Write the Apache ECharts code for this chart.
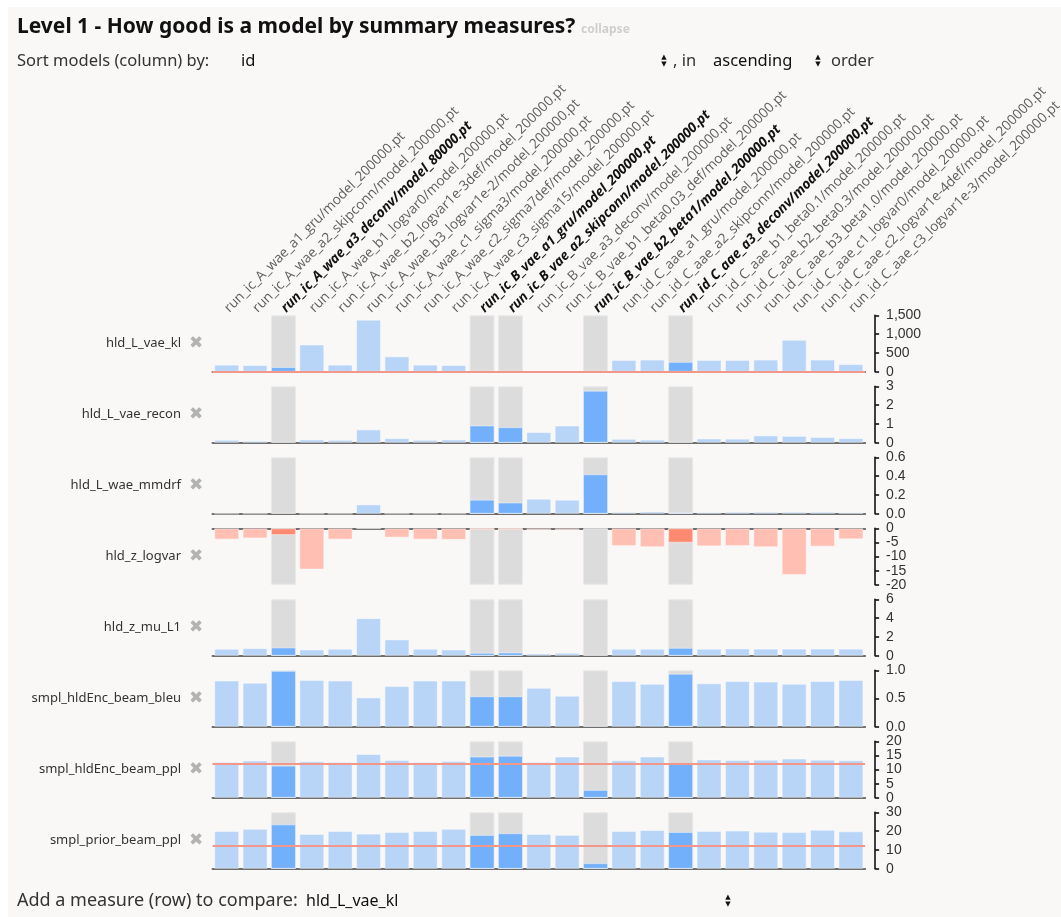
<!DOCTYPE html>
<html>
<head>
<meta charset="utf-8">
<script src="https://cdn.jsdelivr.net/npm/echarts@6/dist/echarts.min.js"></script>
<style>
  html, body { margin: 0; padding: 0; background: #ffffff; }
  #chart { width: 1061px; height: 917px; }
</style>
</head>
<body>
<div id="chart"></div>
<script>
// Models (columns), in ascending id order
const models = [
  'run_ic_A_wae_a1_gru/model_200000.pt',
  'run_ic_A_wae_a2_skipconn/model_200000.pt',
  'run_ic_A_wae_a3_deconv/model_80000.pt',
  'run_ic_A_wae_b1_logvar0/model_200000.pt',
  'run_ic_A_wae_b2_logvar1e-3def/model_200000.pt',
  'run_ic_A_wae_b3_logvar1e-2/model_200000.pt',
  'run_ic_A_wae_c1_sigma3/model_200000.pt',
  'run_ic_A_wae_c2_sigma7def/model_200000.pt',
  'run_ic_A_wae_c3_sigma15/model_200000.pt',
  'run_ic_B_vae_a1_gru/model_200000.pt',
  'run_ic_B_vae_a2_skipconn/model_200000.pt',
  'run_ic_B_vae_a3_deconv/model_200000.pt',
  'run_ic_B_vae_b1_beta0.03_def/model_200000.pt',
  'run_ic_B_vae_b2_beta1/model_200000.pt',
  'run_id_C_aae_a1_gru/model_200000.pt',
  'run_id_C_aae_a2_skipconn/model_200000.pt',
  'run_id_C_aae_a3_deconv/model_200000.pt',
  'run_id_C_aae_b1_beta0.1/model_200000.pt',
  'run_id_C_aae_b2_beta0.3/model_200000.pt',
  'run_id_C_aae_b3_beta1.0/model_200000.pt',
  'run_id_C_aae_c1_logvar0/model_200000.pt',
  'run_id_C_aae_c2_logvar1e-4def/model_200000.pt',
  'run_id_C_aae_c3_logvar1e-3/model_200000.pt'
];
// Selected models (drawn bold, with a grey column behind)
const selected = [
  false, false, true, false, false, false, false, false, false,
  true, true, false, false, true,
  false, false, true, false, false, false, false, false, false
];

// Measures (rows)
const measures = [
  'hld_L_vae_kl', 'hld_L_vae_recon', 'hld_L_wae_mmdrf', 'hld_z_logvar',
  'hld_z_mu_L1', 'smpl_hldEnc_beam_bleu', 'smpl_hldEnc_beam_ppl', 'smpl_prior_beam_ppl'
];

const hldLVaeKl = [190, 180, 125, 725, 190, 1385, 410, 190, 180, 6, 5, 3, 8, 2,
  315, 325, 265, 315, 315, 325, 850, 325, 205];
const hldLVaeRecon = [0.16, 0.11, null, 0.18, 0.16, 0.71, 0.25, 0.16, 0.18, 0.92, 0.83, 0.57, 0.92, 2.77,
  0.21, 0.17, null, 0.23, 0.22, 0.39, 0.37, 0.31, 0.25];
const hldLWaeMmdrf = [0, 0, null, 0, 0, 0.10, 0, 0, 0, 0.15, 0.12, 0.16, 0.15, 0.42,
  0.02, 0.025, 0.015, 0.018, 0.022, 0.022, 0.022, 0.022, 0.016];
const hldZLogvar = [-4.0, -3.6, -2.4, -14.6, -4.0, -0.2, -3.3, -4.0, -4.1, -0.6, -0.6, -0.6, -0.6, null,
  -6.3, -6.7, -5.1, -6.4, -6.3, -6.7, -16.5, -6.5, -3.9];
const hldZMuL1 = [0.75, 0.82, 0.89, 0.67, 0.75, 4.0, 1.74, 0.75, 0.67, 0.32, 0.35, 0.25, 0.32, null,
  0.75, 0.75, 0.85, 0.75, 0.78, 0.76, 0.76, 0.77, 0.76];
const smplHldEncBeamBleu = [0.82, 0.78, 0.99, 0.83, 0.82, 0.52, 0.72, 0.82, 0.82, 0.54, 0.54, 0.69, 0.55, null,
  0.81, 0.76, 0.94, 0.77, 0.81, 0.80, 0.76, 0.81, 0.83];
const smplHldEncBeamPpl = [12.7, 13.2, 11.4, 12.9, 12.7, 15.5, 13.4, 12.7, 13.0, 14.6, 14.9, 12.7, 14.6, 2.8,
  13.3, 14.6, 12.0, 13.6, 13.4, 13.5, 13.9, 13.5, 13.3];
const smplPriorBeamPpl = [20.1, 21.2, 23.6, 18.5, 20.1, 18.7, 19.6, 20.1, 21.2, 18.0, 18.9, 18.5, 18.0, 3.0,
  20.1, 20.6, 19.6, 20.1, 20.3, 19.7, 19.5, 20.7, 19.9];

const rowValues = [hldLVaeKl, hldLVaeRecon, hldLWaeMmdrf, hldZLogvar,
  hldZMuL1, smplHldEncBeamBleu, smplHldEncBeamPpl, smplPriorBeamPpl];

// Axis ranges and tick steps per row
const axisMin = [0, 0, 0, -20, 0, 0, 0, 0];
const axisMax = [1500, 3, 0.6, 0, 6, 1, 20, 30];
const axisStep = [500, 1, 0.2, 5, 2, 0.5, 5, 10];
const axisDecimals = [null, null, 1, null, null, 1, null, null];
// Reference lines (null = none)
const refLine = [0, null, null, null, null, null, 12.1, 12.1];

// Layout
const GRID_LEFT = 212.5, GRID_W = 652.6, ROW_TOP = 315.3, ROW_STEP = 71, ROW_H = 56.5;
const BAR_W = 25;
const LIGHT_BLUE = '#b8d5f8', DARK_BLUE = '#73b0fb';
const LIGHT_RED = '#ffbfb3', DARK_RED = '#ff8a70';
const PAGE_BG = '#f9f8f7';
const UI_FONT = '"Noto Sans", "Open Sans", sans-serif';

const grids = [], xAxes = [], yAxes = [], series = [];

measures.forEach((m, i) => {
  grids.push({
    left: GRID_LEFT, width: GRID_W, top: ROW_TOP + ROW_STEP * i, height: ROW_H,
    containLabel: false, outerBoundsMode: 'none'
  });
  xAxes.push({
    type: 'category', gridIndex: i, data: models,
    axisLine: { onZero: true, lineStyle: { color: '#6f6f6f', width: 2 } },
    axisTick: { show: false }, axisLabel: { show: false }, splitLine: { show: false }
  });
  const dec = axisDecimals[i];
  yAxes.push({
    type: 'value', gridIndex: i, position: 'right', offset: 10,
    min: axisMin[i], max: axisMax[i], interval: axisStep[i],
    splitLine: { show: false },
    axisLine: { show: true, lineStyle: { color: '#111', width: 1.6 } },
    axisTick: { show: true, inside: false, length: 4, lineStyle: { color: '#111', width: 1.6 } },
    axisLabel: {
      margin: 11, color: '#333', fontSize: 14,
      fontFamily: '"Liberation Sans", Arial, sans-serif',
      formatter: dec == null ? undefined : (v) => v.toFixed(dec)
    }
  });

  // grey column behind selected models, spanning the whole axis range
  const full = axisMax[i] > 0 ? axisMax[i] : axisMin[i];
  series.push({
    type: 'bar', xAxisIndex: i, yAxisIndex: i, barWidth: BAR_W, silent: true, z: 1,
    data: models.map((_, j) => selected[j] ? full : null),
    itemStyle: { color: '#dcdcdc', borderColor: '#e9e9e9', borderWidth: 1 }
  });

  const s = {
    type: 'bar', xAxisIndex: i, yAxisIndex: i, barWidth: BAR_W, barGap: '-100%', z: 2,
    data: rowValues[i].map((v, j) => ({
      value: v,
      itemStyle: {
        color: v != null && v < 0
          ? (selected[j] ? DARK_RED : LIGHT_RED)
          : (selected[j] ? DARK_BLUE : LIGHT_BLUE)
      }
    })),
    itemStyle: { borderColor: 'rgba(255,255,255,0.45)', borderWidth: 1 }
  };
  if (refLine[i] != null) {
    s.markLine = {
      silent: true, symbol: 'none', label: { show: false }, z: 5,
      lineStyle: { color: '#f3978a', width: 2, type: 'solid' },
      data: [{ yAxis: refLine[i] }]
    };
  }
  series.push(s);
});

// Column names along the top of the first row
xAxes.push({
  type: 'category', gridIndex: 0, position: 'top', data: models,
  axisLine: { show: false, onZero: false }, axisTick: { show: false },
  axisLabel: {
    interval: 0, rotate: -45, margin: 5, align: 'left', verticalAlign: 'middle',
    hideOverlap: false,
    fontFamily: '"Open Sans", sans-serif', fontSize: 13.7, color: '#5e5e5e',
    formatter: (v, idx) => selected[idx] ? '{sel|' + v + '}' : v,
    rich: {
      sel: { fontFamily: '"Open Sans", sans-serif', fontSize: 13.7, fontWeight: 'bold',
        fontStyle: 'italic', color: '#111' }
    }
  }
});
// hidden series so the label axis is bound
series.push({ type: 'bar', xAxisIndex: measures.length, yAxisIndex: 0, data: [], silent: true });

// Page text and row names on the left
const graphics = [
  { type: 'rect', shape: { x: 0, y: 0, width: 1061, height: 7 }, style: { fill: '#ffffff' }, silent: true },
  { type: 'rect', shape: { x: 0, y: 0, width: 8, height: 917 }, style: { fill: '#ffffff' }, silent: true },
  { type: 'text', x: 17, y: 27, style: { text: 'Level 1 - How good is a model by summary measures?',
      font: 'bold 21px ' + UI_FONT, fill: '#111', verticalAlign: 'middle' } },
  { type: 'text', x: 581, y: 30, style: { text: 'collapse', font: 'bold 12px ' + UI_FONT,
      fill: '#cfcfcf', verticalAlign: 'middle' } },
  { type: 'text', x: 17, y: 61, style: { text: 'Sort models (column) by:', font: '16.5px ' + UI_FONT,
      fill: '#333', verticalAlign: 'middle' } },
  { type: 'text', x: 241, y: 61, style: { text: 'id', font: '16.5px ' + UI_FONT, fill: '#111', verticalAlign: 'middle' } },
  { type: 'text', x: 664, y: 61, style: { text: '▲\n▼', font: '7px "DejaVu Sans"', lineHeight: 7,
      fill: '#111', align: 'center', verticalAlign: 'middle' } },
  { type: 'text', x: 673, y: 61, style: { text: ', in', font: '16.5px ' + UI_FONT, fill: '#333', verticalAlign: 'middle' } },
  { type: 'text', x: 713, y: 61, style: { text: 'ascending', font: '16.5px ' + UI_FONT, fill: '#111', verticalAlign: 'middle' } },
  { type: 'text', x: 818, y: 61, style: { text: '▲\n▼', font: '7px "DejaVu Sans"', lineHeight: 7,
      fill: '#111', align: 'center', verticalAlign: 'middle' } },
  { type: 'text', x: 831, y: 61, style: { text: 'order', font: '16.5px ' + UI_FONT, fill: '#333', verticalAlign: 'middle' } },
  { type: 'text', x: 17, y: 901, style: { text: 'Add a measure (row) to compare:', font: '18px ' + UI_FONT,
      fill: '#333', verticalAlign: 'middle' } },
  { type: 'text', x: 306, y: 901, style: { text: 'hld_L_vae_kl', font: '16px ' + UI_FONT, fill: '#111', verticalAlign: 'middle' } },
  { type: 'text', x: 728, y: 901, style: { text: '▲\n▼', font: '7px "DejaVu Sans"', lineHeight: 7,
      fill: '#111', align: 'center', verticalAlign: 'middle' } }
];
measures.forEach((m, i) => {
  const cy = ROW_TOP + ROW_STEP * i + ROW_H / 2;
  graphics.push({ type: 'text', x: 181, y: cy, style: { text: m, font: '13px ' + UI_FONT,
    fill: '#333', align: 'right', verticalAlign: 'middle' } });
  graphics.push({ type: 'text', x: 196, y: cy, style: { text: '✖', font: '17px "DejaVu Sans"',
    fill: '#b3b3b3', align: 'center', verticalAlign: 'middle' } });
});

const chart = echarts.init(document.getElementById('chart'), null, { renderer: 'canvas' });
chart.setOption({
  backgroundColor: PAGE_BG,
  animation: false,
  grid: grids,
  xAxis: xAxes,
  yAxis: yAxes,
  series: series,
  graphic: graphics
});
</script>
</body>
</html>
